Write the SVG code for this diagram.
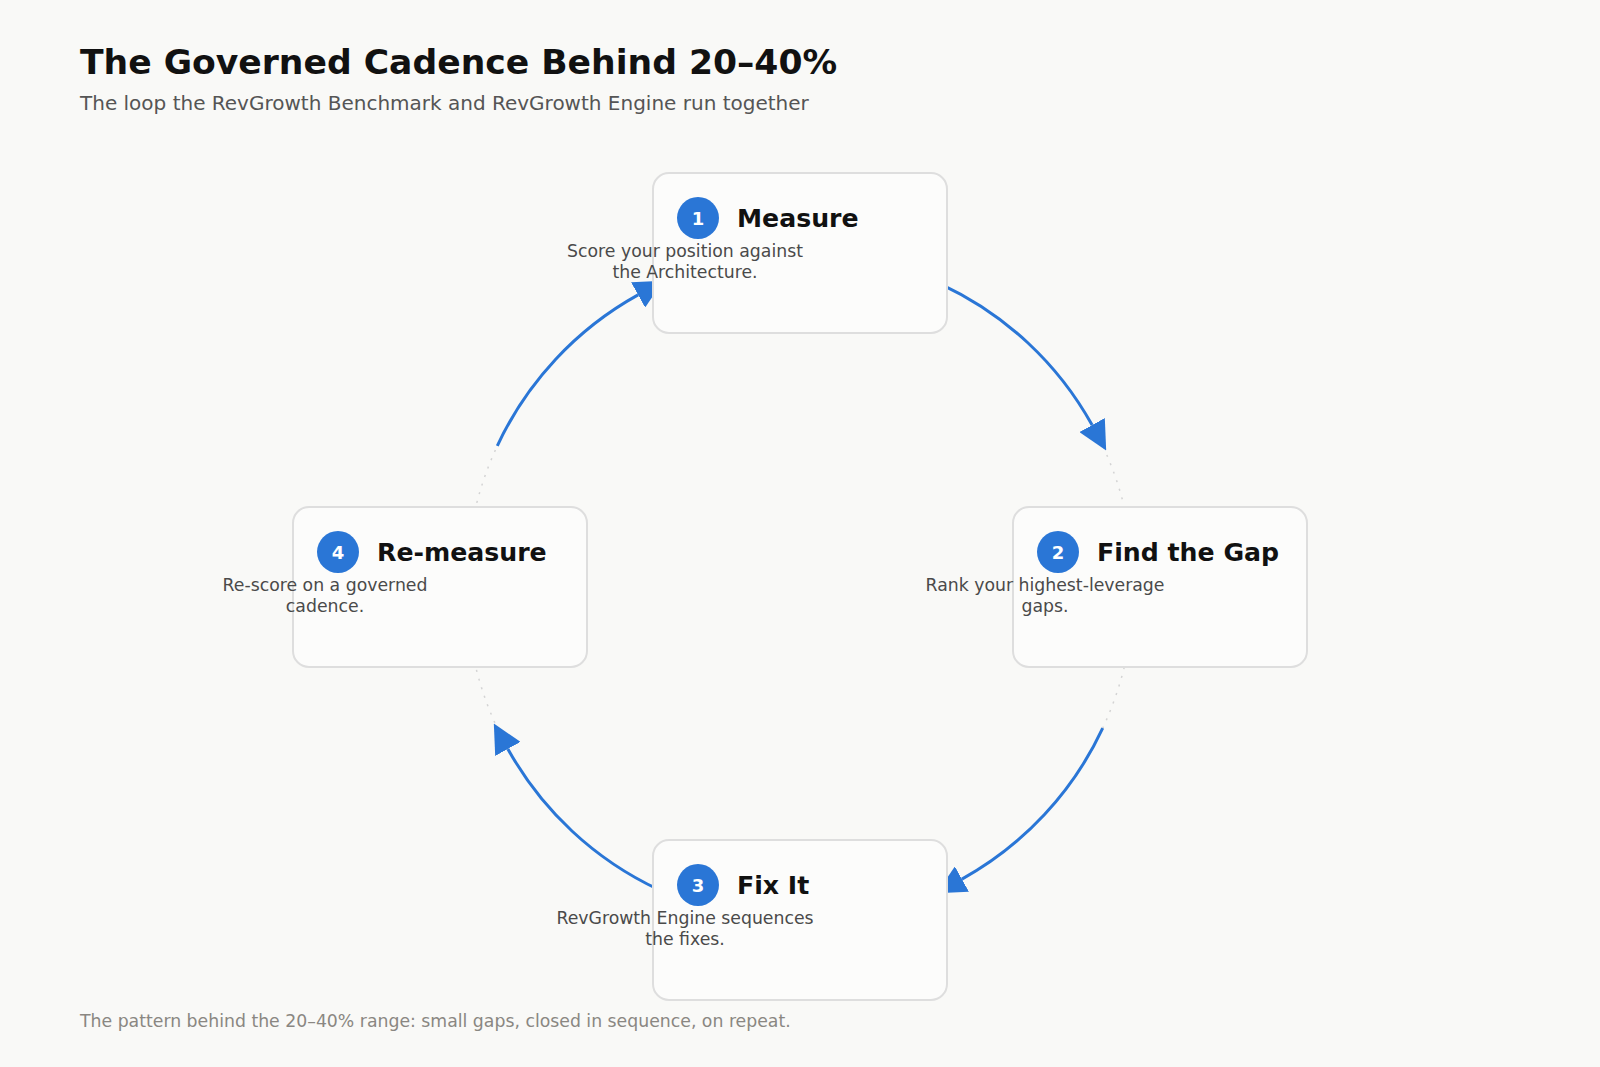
<svg xmlns="http://www.w3.org/2000/svg" width="1600" height="1067" viewBox="0 0 1600 1067">
  <defs>
    <style>
      text { font-family: "DejaVu Sans", "Liberation Sans", sans-serif; }
      .title { font-size: 34.6px; font-weight: bold; fill: #111111; }
      .subtitle { font-size: 20px; fill: #555555; }
      .footer { font-size: 17.3px; fill: #8a8782; }
      .box { fill: #fcfcfb; stroke: #dedede; stroke-width: 2; }
      .badge { fill: #2a76d6; }
      .num { font-size: 18px; font-weight: bold; fill: #ffffff; text-anchor: middle; }
      .ntitle { font-size: 25.2px; font-weight: bold; fill: #111111; }
      .desc { font-size: 17.3px; fill: #4a4a4a; text-anchor: middle; }
      .track { fill: none; stroke: #d4d4d4; stroke-width: 1.5; stroke-dasharray: 2 7; }
      .arc { fill: none; stroke: #2a76d6; stroke-width: 3; }
    </style>
    <marker id="arrow" viewBox="0 0 10 10" refX="0" refY="5" markerWidth="29" markerHeight="29" markerUnits="userSpaceOnUse" orient="auto">
      <path d="M0,0 L10,5 L0,10 z" fill="#2a76d6"/>
    </marker>
  </defs>

  <rect x="0" y="0" width="1600" height="1067" fill="#f9f9f7"/>

  <text class="title" x="80" y="73.5">The Governed Cadence Behind 20–40%</text>
  <text class="subtitle" x="80" y="110">The loop the RevGrowth Benchmark and RevGrowth Engine run together</text>

  <g id="connectors">
    <circle class="track" cx="800" cy="587" r="334"/>
    <path class="arc" d="M941.15,284.29 A334,334 0 0 1 1092.12,425.07" marker-end="url(#arrow)"/>
    <path class="arc" d="M1102.71,728.15 A334,334 0 0 1 961.93,879.12" marker-end="url(#arrow)"/>
    <path class="arc" d="M658.85,889.71 A334,334 0 0 1 507.88,748.93" marker-end="url(#arrow)"/>
    <path class="arc" d="M497.29,445.85 A334,334 0 0 1 638.07,294.88" marker-end="url(#arrow)"/>
  </g>

  <g id="node-measure">
    <rect class="box" x="653" y="173" width="294" height="160" rx="16"/>
    <circle class="badge" cx="698" cy="218" r="21"/>
    <text class="num" x="698" y="224.5">1</text>
    <text class="ntitle" x="737" y="226.5">Measure</text>
    <text class="desc" x="685" y="256.5">Score your position against</text>
    <text class="desc" x="685" y="277.5">the Architecture.</text>
  </g>

  <g id="node-find-gap">
    <rect class="box" x="1013" y="507" width="294" height="160" rx="16"/>
    <circle class="badge" cx="1058" cy="552" r="21"/>
    <text class="num" x="1058" y="558.5">2</text>
    <text class="ntitle" x="1097" y="560.5">Find the Gap</text>
    <text class="desc" x="1045" y="590.5">Rank your highest-leverage</text>
    <text class="desc" x="1045" y="611.5">gaps.</text>
  </g>

  <g id="node-fix-it">
    <rect class="box" x="653" y="840" width="294" height="160" rx="16"/>
    <circle class="badge" cx="698" cy="885" r="21"/>
    <text class="num" x="698" y="891.5">3</text>
    <text class="ntitle" x="737" y="893.5">Fix It</text>
    <text class="desc" x="685" y="923.5">RevGrowth Engine sequences</text>
    <text class="desc" x="685" y="944.5">the fixes.</text>
  </g>

  <g id="node-re-measure">
    <rect class="box" x="293" y="507" width="294" height="160" rx="16"/>
    <circle class="badge" cx="338" cy="552" r="21"/>
    <text class="num" x="338" y="558.5">4</text>
    <text class="ntitle" x="377" y="560.5">Re-measure</text>
    <text class="desc" x="325" y="590.5">Re-score on a governed</text>
    <text class="desc" x="325" y="611.5">cadence.</text>
  </g>

  <text class="footer" x="80" y="1027">The pattern behind the 20–40% range: small gaps, closed in sequence, on repeat.</text>
</svg>
